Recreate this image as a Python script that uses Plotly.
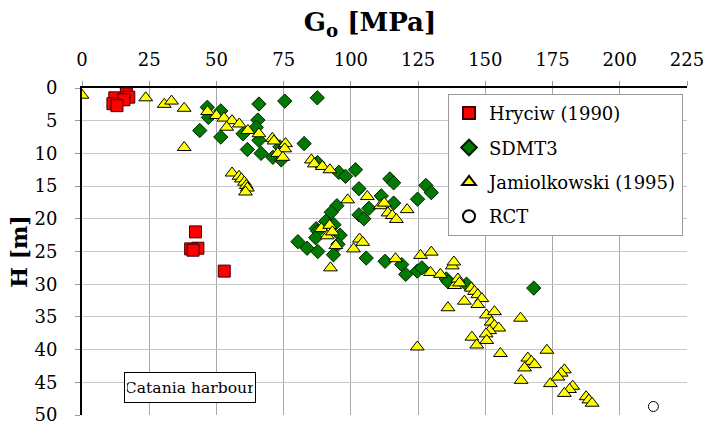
import plotly.graph_objects as go

# Hryciw (1990)
hryciw_G = [12.2, 16.5, 17.4, 15.6, 11.5, 13.0, 42.2, 43.1, 40.4, 41.3, 52.9]
hryciw_H = [1.5, 0.9, 1.4, 1.8, 2.4, 2.7, 22.0, 24.5, 24.6, 24.8, 28.0]

# SDMT3
sdmt_G = [65.8, 75.4, 87.5, 46.6, 51.6, 47.0, 43.8, 51.6, 65.4, 64.8, 59.9, 65.8,
          61.5, 66.6, 71.0, 73.6, 74.1, 82.6, 87.6, 95.5, 98.0, 101.7, 114.5, 115.9,
          127.9, 129.9, 103.0, 111.3, 115.9, 124.8, 94.8, 92.7, 106.7, 103.0, 104.8,
          90.6, 93.7, 87.1, 87.7, 86.9, 96.0, 95.2, 80.3, 83.7, 87.7, 93.5, 105.7,
          112.7, 118.9, 120.4, 124.7, 126.4, 135.5, 136.1, 143.0, 168.0]
sdmt_H = [2.45, 2.0, 1.5, 2.95, 3.5, 4.5, 6.5, 7.5, 4.9, 6.0, 7.0, 8.0,
          9.4, 10.0, 10.6, 9.0, 11.0, 8.5, 11.4, 12.9, 13.5, 12.5, 13.9, 14.5,
          14.9, 16.0, 15.4, 16.5, 17.6, 17.0, 18.0, 19.0, 18.4, 19.4, 20.0,
          20.4, 20.9, 21.5, 21.9, 22.9, 22.5, 23.9, 23.5, 24.5, 25.0, 25.5, 26.0,
          26.5, 27.0, 28.5, 28.0, 27.5, 29.2, 29.6, 30.0, 30.6]

# Jamiolkowski (1995)
jam_G = [0.0, 23.7, 30.6, 33.3, 38.0, 38.0, 46.7, 50.0, 52.8, 55.8, 53.8, 58.5,
         61.7, 65.8, 70.8, 71.4, 75.7, 75.4, 72.8, 74.7, 85.3, 86.4, 89.4, 92.2,
         55.8, 58.4, 59.3, 60.4, 61.1, 61.5, 60.8, 98.8, 106.1, 111.0, 112.4, 113.8,
         115.4, 116.9, 120.9, 89.0, 91.2, 92.1, 93.1, 94.4, 92.4, 101.0, 103.2, 104.4,
         116.6, 125.9, 129.9, 129.6, 133.3, 137.7, 138.3, 138.6, 139.8, 140.4, 142.2,
         136.1, 144.8, 146.0, 147.2, 148.7, 147.2, 150.4, 153.4, 152.2, 153.4, 155.0,
         151.6, 150.3, 145.0, 146.8, 150.5, 155.6, 163.1, 124.7, 172.9, 165.8, 167.1,
         168.3, 164.6, 163.3, 174.2, 179.4, 178.2, 177.0, 182.5, 181.3, 179.4, 187.5,
         188.5, 189.7]
jam_H = [1.1, 1.5, 2.5, 2.0, 3.1, 9.1, 3.6, 4.2, 4.6, 5.0, 6.0, 5.5,
         6.5, 7.0, 7.7, 8.1, 8.5, 9.3, 10.0, 10.6, 11.0, 11.6, 12.0, 12.5,
         13.0, 13.5, 13.9, 14.4, 14.9, 15.3, 15.9, 17.1, 16.6, 18.0, 17.6, 19.1,
         19.5, 20.1, 18.6, 21.5, 22.6, 21.0, 22.0, 24.1, 27.5, 24.6, 23.1, 23.6,
         26.1, 25.6, 25.1, 28.2, 28.5, 27.2, 26.6, 30.2, 29.2, 29.8, 32.6,
         33.6, 30.6, 31.1, 31.6, 32.2, 33.1, 34.7, 34.2, 35.8, 36.3, 36.7,
         37.1, 37.6, 38.1, 39.3, 38.6, 40.6, 35.2, 39.6, 40.1, 41.3, 41.8,
         42.3, 42.8, 44.7, 45.2, 43.1, 43.6, 44.2, 45.6, 46.1, 46.7, 47.2,
         47.7, 48.2]

# RCT
rct_G = [212.5]
rct_H = [48.7]

x_ticks = [0, 25, 50, 75, 100, 125, 150, 175, 200, 225]
y_ticks = [0, 5, 10, 15, 20, 25, 30, 35, 40, 45, 50]

FONT = "DejaVu Serif"

fig = go.Figure()
fig.add_trace(go.Scatter(x=hryciw_G, y=hryciw_H, mode="markers", name="Hryciw (1990)",
                         legendgroup="g1",
                         marker=dict(symbol="square", size=12, color="#ff0000",
                                     line=dict(color="#400000", width=1))))
fig.add_trace(go.Scatter(x=sdmt_G, y=sdmt_H, mode="markers", name="SDMT3",
                         legendgroup="g2",
                         marker=dict(symbol="diamond", size=11, color="#007a00",
                                     line=dict(color="#002000", width=1))))
fig.add_trace(go.Scatter(x=jam_G, y=jam_H, mode="markers", name="Jamiolkowski (1995)",
                         legendgroup="g3",
                         marker=dict(symbol="triangle-up", size=12, color="#ffff00",
                                     line=dict(color="#000000", width=1))))
fig.add_trace(go.Scatter(x=rct_G, y=rct_H, mode="markers", name="RCT",
                         legendgroup="g4",
                         marker=dict(symbol="circle", size=10, color="#ffffff",
                                     line=dict(color="#000000", width=1))))

fig.add_annotation(x=40, y=45.8, xref="x", yref="y", text="Catania harbour",
                   showarrow=False, font=dict(family=FONT, size=15.6, color="black"),
                   width=126, height=25,
                   bordercolor="black", borderwidth=1, borderpad=2, bgcolor="white")

fig.update_layout(
    width=704, height=425,
    margin=dict(l=82, r=17, t=88, b=10),
    paper_bgcolor="white", plot_bgcolor="white",
    font=dict(family=FONT, size=18, color="black"),
    title=dict(text="<b>G<sub>o</sub> [MPa]</b>", x=0.476, xanchor="center",
               xref="paper", y=0.948, yanchor="middle",
               font=dict(family=FONT, size=26, color="black")),
    legend=dict(x=0.605, y=0.982, xanchor="left", yanchor="top",
                bordercolor="#999999", borderwidth=1, bgcolor="white",
                font=dict(family=FONT, size=18, color="black"),
                itemwidth=30, itemsizing="constant",
                traceorder="grouped", tracegroupgap=8),
)
fig.update_xaxes(side="top", range=[0, 225], tickvals=x_ticks, automargin=False,
                 showgrid=True, gridcolor="#a8a8a8", gridwidth=1,
                 showline=True, linecolor="black", linewidth=2,
                 ticks="outside", ticklen=5, tickcolor="#999999",
                 ticklabelstandoff=8, ticklabeloverflow="allow",
                 zeroline=False, tickfont=dict(family=FONT, size=18))
fig.update_yaxes(range=[50, 0], tickvals=y_ticks, automargin=False,
                 showgrid=True, gridcolor="#c8c8c8", gridwidth=1,
                 showline=True, linecolor="black", linewidth=2,
                 ticks="outside", ticklen=5, tickcolor="#999999",
                 ticklabelstandoff=14, ticklabeloverflow="allow",
                 zeroline=False, tickfont=dict(family=FONT, size=18),
                 title=dict(text="<b>H [m]</b>", font=dict(family=FONT, size=22), standoff=1))

fig.write_html("out.html", config={"displayModeBar": False},
               post_script="document.body.style.margin='0px';")
